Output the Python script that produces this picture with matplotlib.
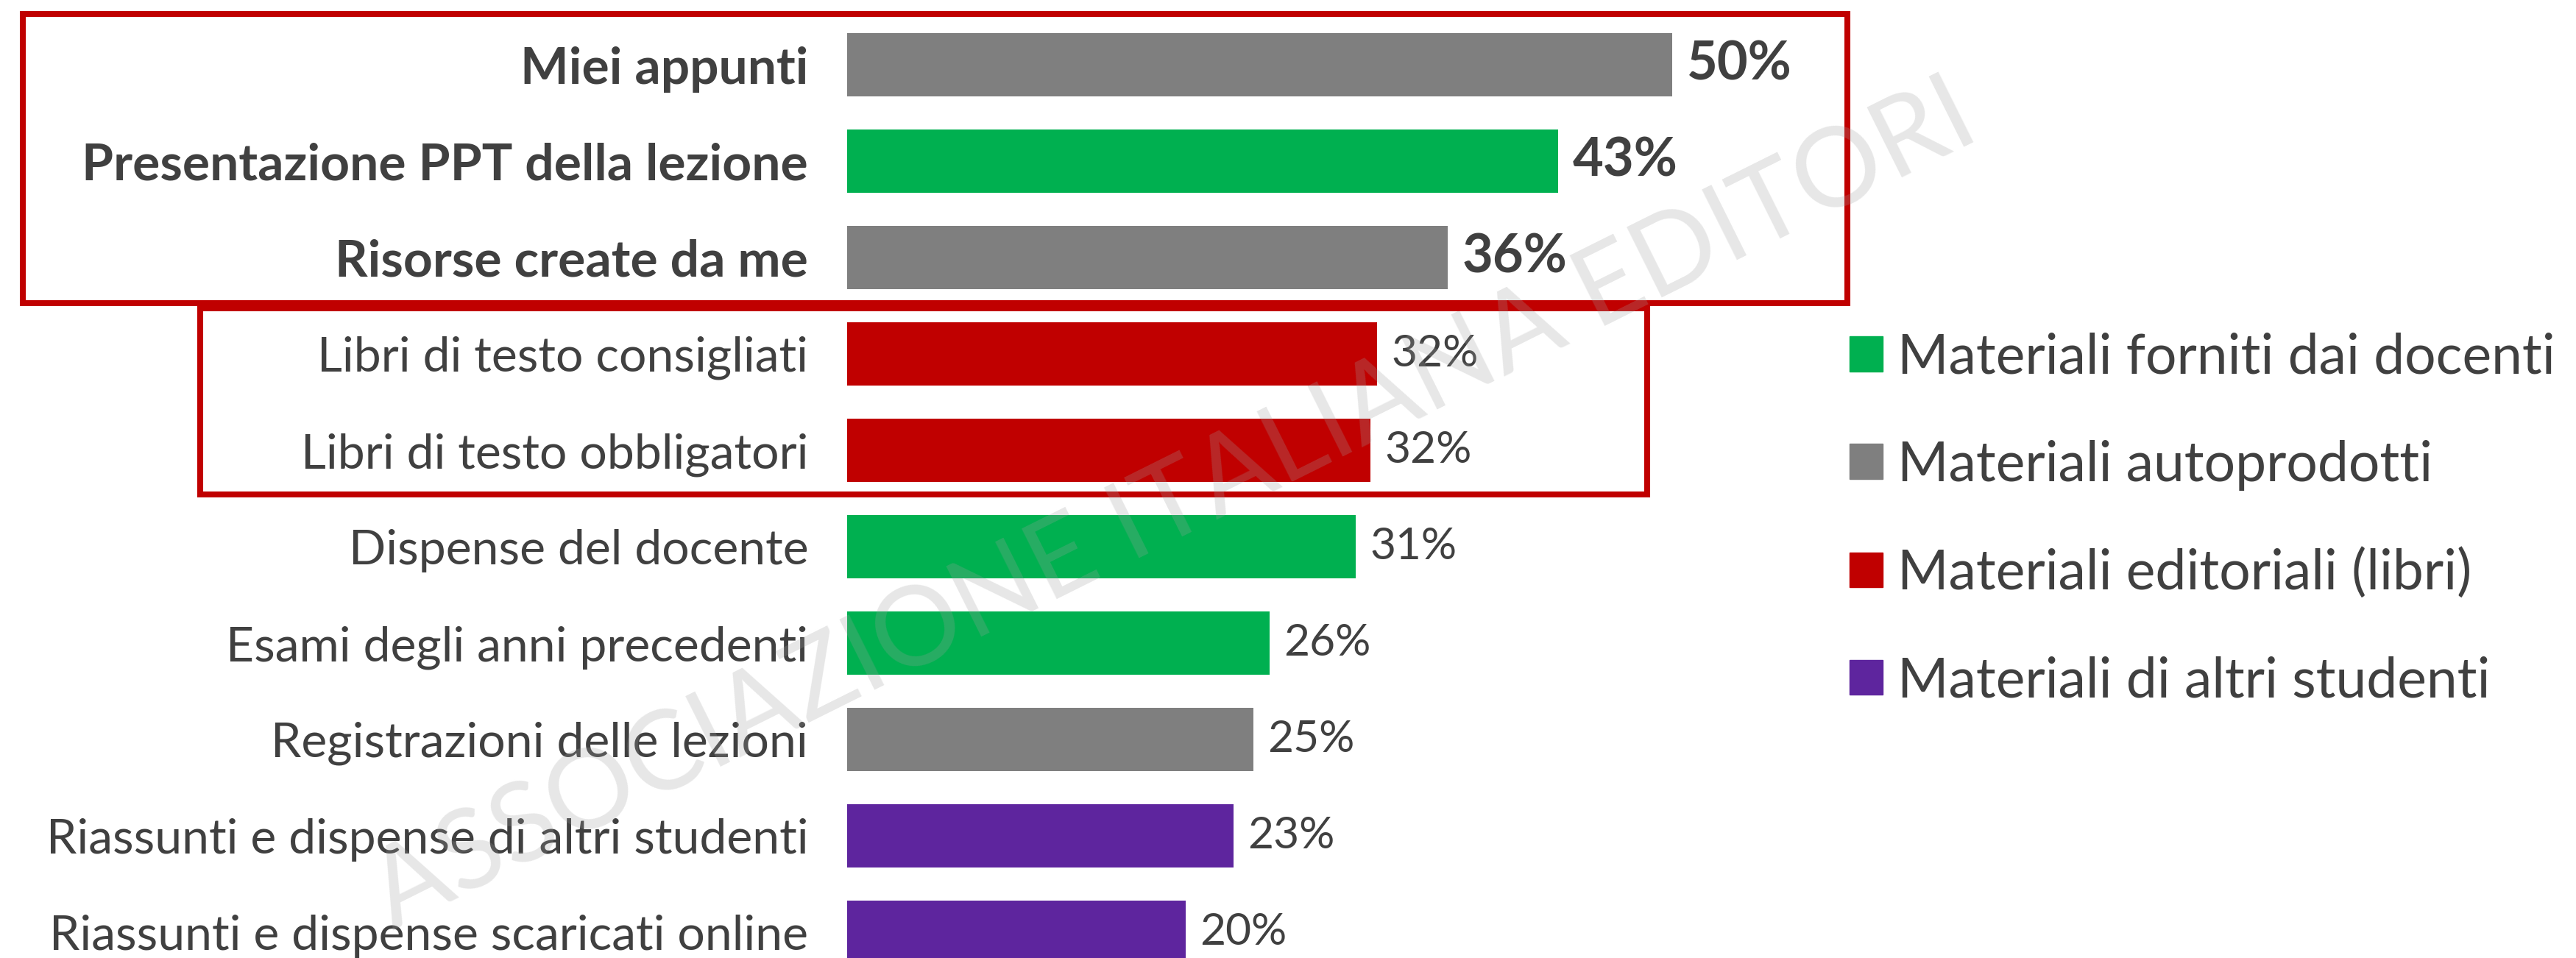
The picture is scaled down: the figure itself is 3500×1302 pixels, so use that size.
import matplotlib
matplotlib.use("Agg")
import matplotlib.pyplot as plt
import matplotlib.transforms as mtransforms
from matplotlib.patches import Patch, Rectangle

plt.rcParams['font.family'] = ['Lato', 'DejaVu Sans']

# dati
categorie = ["Miei appunti", "Presentazione PPT della lezione", "Risorse create da me",
             "Libri di testo consigliati", "Libri di testo obbligatori", "Dispense del docente",
             "Esami degli anni precedenti", "Registrazioni delle lezioni",
             "Riassunti e dispense di altri studenti", "Riassunti e dispense scaricati online"]
valori = [50.0, 43.1, 36.4, 32.1, 31.7, 30.8, 25.6, 24.6, 23.4, 20.5]
etichette = ["50%", "43%", "36%", "32%", "32%", "31%", "26%", "25%", "23%", "20%"]
gruppi = ["auto", "docenti", "auto", "editoriali", "editoriali", "docenti",
          "docenti", "auto", "studenti", "studenti"]
evidenziati = [True, True, True, False, False, False, False, False, False, False]

legenda_nomi = ["Materiali forniti dai docenti", "Materiali autoprodotti",
                "Materiali editoriali (libri)", "Materiali di altri studenti"]
colori = {"docenti": "#00B050", "auto": "#7F7F7F", "editoriali": "#C00000", "studenti": "#5E259E"}
testo = "#404040"

fig = plt.figure(figsize=(35, 13.02), dpi=100)
ax = fig.add_axes([1151 / 3500, -30.5 / 1302, 2242 / 3500, 1310 / 1302])

y = range(len(categorie))
ax.barh(y, valori, height=0.65, color=[colori[g] for g in gruppi])
ax.set_xlim(0, 100)
ax.set_ylim(len(categorie) - 0.5, -0.5)

ax.set_yticks(list(y))
ax.set_yticklabels(categorie)
for lab, b in zip(ax.get_yticklabels(), evidenziati):
    lab.set_fontweight('bold' if b else 'normal')
    lab.set_color(testo)
    lab.set_fontsize(50 if b else 47.6)
ax.tick_params(axis='y', length=0, pad=38)
ax.set_xticks([])
for s in ax.spines.values():
    s.set_visible(False)
ax.patch.set_alpha(0)

# etichette dei valori
for i, (v, t, b) in enumerate(zip(valori, etichette, evidenziati)):
    ax.annotate(t, (v, i), xytext=(14, 0), textcoords='offset points',
                va='center', ha='left', fontsize=52 if b else 43.5,
                fontweight='bold' if b else 'normal', color=testo)

# riquadri rossi
tr = mtransforms.blended_transform_factory(fig.transFigure, ax.transData)
fig.add_artist(Rectangle((31 / 3500, -0.527), (2510 - 31) / 3500, 2.997, transform=tr,
                         fill=False, edgecolor="#C00000", linewidth=5.8, clip_on=False))
fig.add_artist(Rectangle((272 / 3500, 2.53), (2238 - 272) / 3500, 1.93, transform=tr,
                         fill=False, edgecolor="#C00000", linewidth=5.8, clip_on=False))

handles = [Patch(color=colori[g]) for g in ["docenti", "auto", "editoriali", "studenti"]]
leg = fig.legend(handles, legenda_nomi, loc='center left', bbox_to_anchor=(2513 / 3500, 0.458),
                 frameon=False, fontsize=54, handlelength=0.6, handleheight=0.6,
                 handletextpad=0.27, labelspacing=1.03, borderpad=0, borderaxespad=0)
for t in leg.get_texts():
    t.set_color(testo)

fig.text(1595 / 3500, 1 - 688 / 1302, "ASSOCIAZIONE ITALIANA EDITORI", rotation=26.5,
         rotation_mode='anchor', ha='center', va='center', fontsize=108,
         color="#A0A0A0", alpha=0.25, zorder=10)

fig.savefig("out.png", dpi=100, facecolor="white")
